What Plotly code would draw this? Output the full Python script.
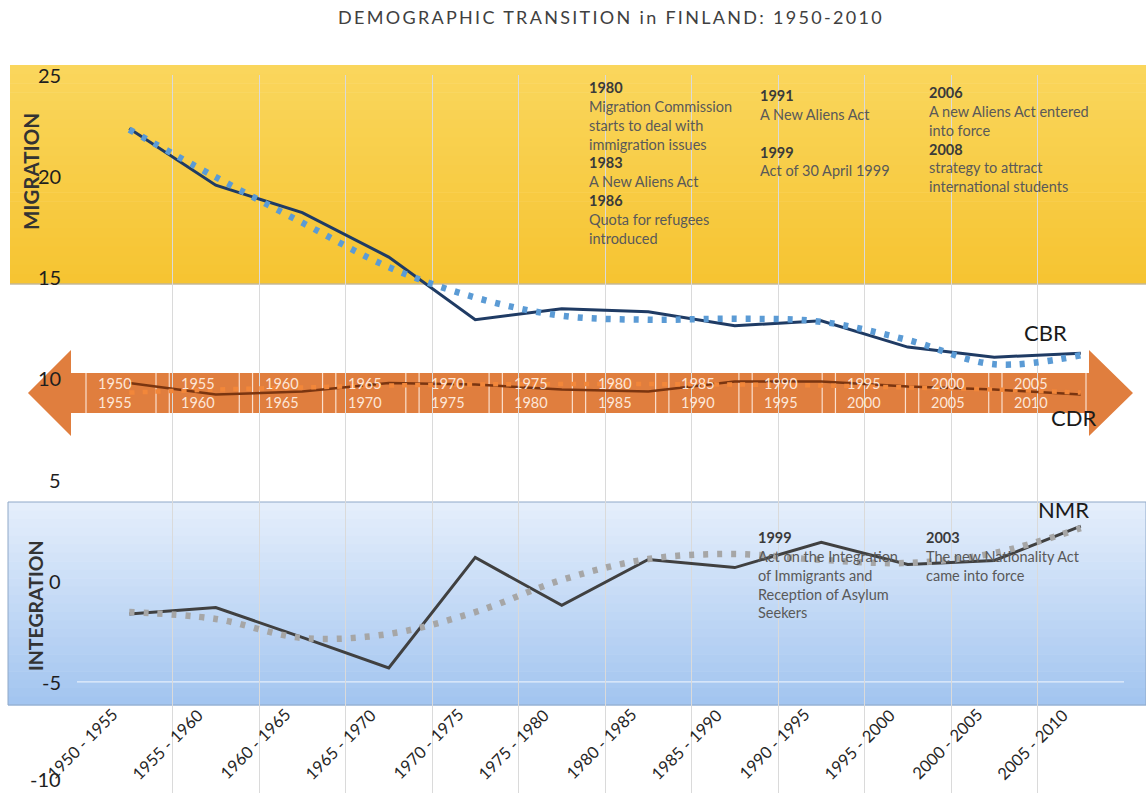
import plotly.graph_objects as go

# ---------------- data ----------------
categories = ["1950 - 1955", "1955 - 1960", "1960 - 1965", "1965 - 1970", "1970 - 1975", "1975 - 1980",
              "1980 - 1985", "1985 - 1990", "1990 - 1995", "1995 - 2000", "2000 - 2005", "2005 - 2010"]
cbr = [22.35, 19.55, 18.2, 16.0, 12.9, 13.45, 13.3, 12.6, 12.85, 11.55, 11.05, 11.25]
cbr_trend = [22.3, 19.95, 17.7, 15.5, 14.0, 13.1, 12.9, 12.95, 12.8, 11.9, 10.7, 11.15]
cdr = [9.77, 9.2, 9.35, 9.77, 9.7, 9.45, 9.35, 9.85, 9.85, 9.6, 9.45, 9.2]
cdr_trend = [9.3, 9.45, 9.55, 9.65, 9.7, 9.72, 9.72, 9.7, 9.65, 9.55, 9.45, 9.3]
nmr = [-1.64, -1.33, -2.8, -4.31, 1.15, -1.22, 1.05, 0.65, 1.9, 0.8, 1.0, 2.7]
nmr_trend = [-1.55, -1.89, -2.83, -2.63, -1.55, 0.04, 1.07, 1.32, 1.03, 0.88, 1.37, 2.6]
y_ticks = [-10, -5, 0, 5, 10, 15, 20, 25]

FONT = "Lato"
W, H = 1146, 793
ML, MR, MT, MB = 86, 22, 75, 0
PW, PH = W - ML - MR, H - MT - MB
Y_TOP_PX, Y_BOT_PX = 75, 783          # pixel rows of the first and last y tick
UNIT = (Y_BOT_PX - Y_TOP_PX) / (y_ticks[-1] - y_ticks[0])
Y_LOW = y_ticks[0] - (H - MB - Y_BOT_PX) / UNIT


def px(xp):
    return (xp - ML) / PW


def py(yp):
    return (H - MB - yp) / PH


def lerp(c0, c1, t):
    return "rgb(%d,%d,%d)" % tuple(round(a + (b - a) * t) for a, b in zip(c0, c1))


xs = list(range(len(categories)))
fig = go.Figure()

fig.add_trace(go.Scatter(x=xs, y=cbr, mode="lines", line=dict(color="#1F3B64", width=3), name="CBR"))
fig.add_trace(go.Scatter(x=xs, y=cbr_trend, mode="lines", line=dict(color="#5B9BD5", width=6.5, dash="5px,9px", shape="spline", smoothing=1.0), name="CBR trend"))
fig.add_trace(go.Scatter(x=xs, y=cdr, mode="lines", line=dict(color="#7A3510", width=2.5), name="CDR"))
fig.add_trace(go.Scatter(x=xs, y=cdr_trend, mode="lines", line=dict(color="#F2873A", width=4.5, dash="5px,8px", shape="spline", smoothing=1.0), name="CDR trend"))
fig.add_trace(go.Scatter(x=xs, y=nmr, mode="lines", line=dict(color="#404040", width=3), name="NMR"))
fig.add_trace(go.Scatter(x=xs, y=nmr_trend, mode="lines", line=dict(color="#A6A6A6", width=6.5, dash="5px,9px", shape="spline", smoothing=1.0), name="NMR trend"))

shapes = []
# yellow migration band (gradient)
n = 24
y_top, y_bot = 65, 283
for k in range(n):
    y0 = y_top + (y_bot - y_top) * k / n
    y1 = y_top + (y_bot - y_top) * (k + 1) / n + 0.6
    shapes.append(dict(type="rect", xref="paper", yref="paper", x0=px(10), x1=px(1146), y0=py(y1), y1=py(y0),
                       fillcolor=lerp((250, 214, 92), (246, 196, 50), k / (n - 1)), line=dict(width=0), layer="below"))
shapes.append(dict(type="line", xref="paper", yref="paper", x0=px(10), x1=px(1146), y0=py(284), y1=py(284),
                   line=dict(color="rgba(160,140,90,0.45)", width=2), layer="below"))
# blue integration band (gradient)
y_top, y_bot = 502, 705
for k in range(n):
    y0 = y_top + (y_bot - y_top) * k / n
    y1 = y_top + (y_bot - y_top) * (k + 1) / n + 0.6
    shapes.append(dict(type="rect", xref="paper", yref="paper", x0=px(8), x1=px(1146), y0=py(y1), y1=py(y0),
                       fillcolor=lerp((228, 238, 251), (163, 197, 240), k / (n - 1)), line=dict(width=0), layer="below"))
shapes.append(dict(type="rect", xref="paper", yref="paper", x0=px(8), x1=px(1146), y0=py(705), y1=py(502),
                   fillcolor="rgba(0,0,0,0)", line=dict(color="#8FA8C8", width=1), layer="below"))
shapes.append(dict(type="line", xref="paper", yref="y", x0=px(77), x1=1, y0=-5, y1=-5,
                   line=dict(color="rgba(235,243,252,0.9)", width=1.2), layer="below"))

# orange double arrow
pts = [(28, 393), (71, 350), (71, 373), (1089, 373), (1089, 350), (1133, 393), (1089, 436), (1089, 413), (71, 413), (71, 436)]
path = "M " + " L ".join("%.5f,%.5f" % (px(a), py(b)) for a, b in pts) + " Z"
shapes.append(dict(type="path", xref="paper", yref="paper", path=path, fillcolor="#E07E3E",
                   line=dict(width=0), layer="between"))

annotations = []
# y tick labels
for v in y_ticks:
    annotations.append(dict(xref="paper", yref="y", x=px(62), y=v, xanchor="right", yanchor="middle",
                            yshift=4 if v == y_ticks[0] else 0, borderpad=0,
                            text=str(v), showarrow=False,
                            font=dict(family=FONT, size=20, color="#1E1E1E")))

# label boxes on the arrow
starts = [c.split(" - ")[0] for c in categories]
ends = [c.split(" - ")[1] for c in categories]
step = (1002 - 86) / 11
for i in range(len(categories)):
    left = 86 + step * i
    right = left + 70 if i < len(categories) - 1 else 1086
    for xe in (left, right):
        shapes.append(dict(type="line", xref="paper", yref="paper", x0=px(xe), x1=px(xe), y0=py(413), y1=py(373),
                           line=dict(color="rgba(255,240,230,0.85)", width=1.2), layer="between"))
    annotations.append(dict(xref="paper", yref="paper", x=px(left + 10), y=py(393), xanchor="left", yanchor="middle",
                            text=starts[i] + "<br>" + ends[i], showarrow=False, align="left",
                            font=dict(family=FONT, size=14.5, color="rgba(255,238,225,0.95)")))

# category labels, rotated
for i, c in enumerate(categories):
    annotations.append(dict(xref="x", yref="paper", x=i, y=py(702), xanchor="right", yanchor="top", xshift=-5,
                            text=c, textangle=-45, showarrow=False,
                            font=dict(family=FONT, size=16.5, color="#262626")))

# section titles
annotations.append(dict(xref="paper", yref="paper", x=px(31), y=py(172), xanchor="center", yanchor="middle",
                        text="<b>MIGRATION</b>", textangle=-90,
                        showarrow=False, font=dict(family=FONT, size=20.5, color="#333333")))
annotations.append(dict(xref="paper", yref="paper", x=px(35), y=py(606), xanchor="center", yanchor="middle",
                        text="<b>INTEGRATION</b>", textangle=-90,
                        showarrow=False, font=dict(family=FONT, size=19.5, color="#333333")))

# series labels
for txt, xp, yp in [("CBR", 1045, 332), ("CDR", 1073, 417), ("NMR", 1063, 510)]:
    annotations.append(dict(xref="paper", yref="paper", x=px(xp), y=py(yp), xanchor="center", yanchor="middle",
                            text=txt, showarrow=False,
                            font=dict(family=FONT, size=22, color="#1A1A1A")))

# policy notes
B = "<span style='color:#3A3A3A'><b>%s</b></span>"
N = "<span style='color:#595959'>%s</span>"
notes = [
    (587, 77, [B % "1980", N % "Migration Commission", N % "starts to deal with", N % "immigration issues",
               B % "1983", N % "A New Aliens Act", B % "1986", N % "Quota for refugees", N % "introduced"]),
    (758, 85, [B % "1991", N % "A New Aliens Act", "", B % "1999", N % "Act of 30 April 1999"]),
    (927, 82, [B % "2006", N % "A new Aliens Act entered", N % "into force", B % "2008",
               N % "strategy to attract", N % "international students"]),
    (756, 527, [B % "1999", N % "Act on the Integration", N % "of Immigrants and", N % "Reception of Asylum", N % "Seekers"]),
    (924, 527, [B % "2003", N % "The new Nationality Act", N % "came into force"]),
]
for xp, yp, lines in notes:
    annotations.append(dict(xref="paper", yref="paper", x=px(xp), y=py(yp), xanchor="left", yanchor="top",
                            text="<br>".join(lines), showarrow=False, align="left",
                            font=dict(family=FONT, size=14.5, color="#595959")))

fig.update_layout(
    width=W, height=H,
    margin=dict(l=ML, r=MR, t=MT, b=MB),
    paper_bgcolor="white", plot_bgcolor="rgba(0,0,0,0)",
    showlegend=False,
    title=dict(text="<span style='letter-spacing:2.3px'>DEMOGRAPHIC TRANSITION in FINLAND: 1950-2010</span>",
               x=611 / W, xanchor="center",
               y=1 - 18 / H, yanchor="middle", font=dict(family=FONT, size=18, color="#404040")),
    xaxis=dict(range=[-0.5, len(categories) - 0.5], tickmode="array",
               tickvals=[i - 0.5 for i in range(len(categories) + 1)], showticklabels=False,
               showgrid=True, gridcolor="#DADADA", gridwidth=1, zeroline=False, showline=False, ticks=""),
    yaxis=dict(range=[Y_LOW, y_ticks[-1]], tickmode="array", tickvals=y_ticks,
               showticklabels=False, showgrid=False, zeroline=False, showline=False, ticks=""),
    shapes=shapes, annotations=annotations,
)

fig.write_html("out.html", config={"displayModeBar": False},
               post_script="document.body.style.margin='0';document.body.style.overflow='hidden';")
